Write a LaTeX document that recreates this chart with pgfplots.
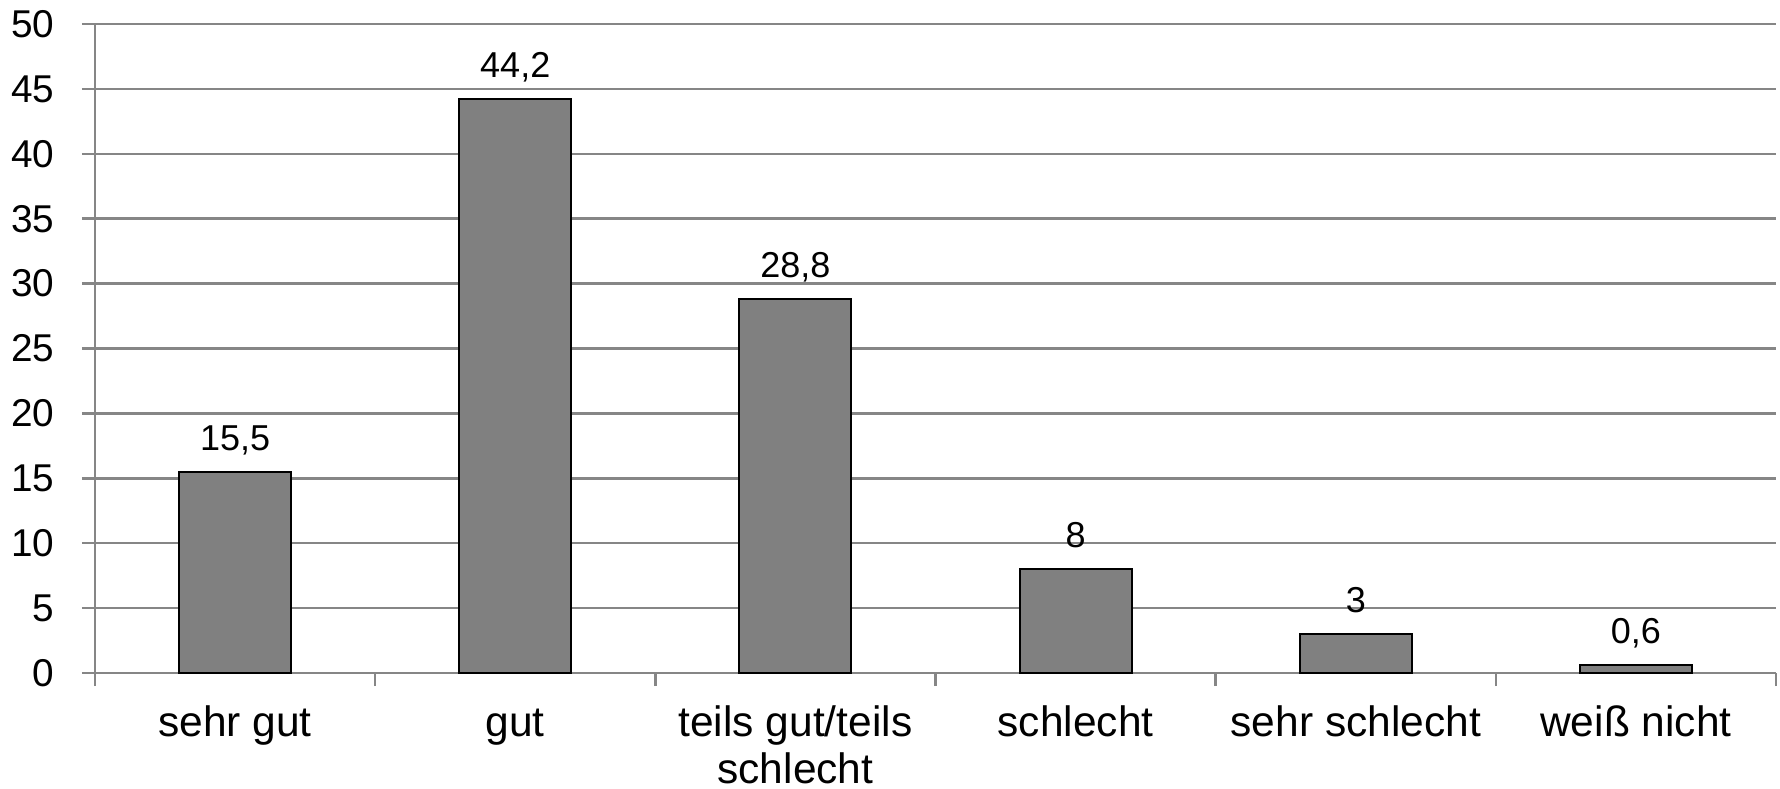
\documentclass[border=0pt]{standalone}
\usepackage{pgfplots}
\pgfplotsset{compat=1.18}
\usepackage{fontspec}
\setmainfont{Liberation Sans}
\definecolor{gridgray}{RGB}{134,134,134}
\definecolor{barfill}{RGB}{128,128,128}
\begin{document}
\begin{tikzpicture}
\useasboundingbox (0,0) rectangle (712pt,315.6pt);
\begin{axis}[
  at={(38pt,46.4pt)}, anchor=south west,
  scale only axis, width=672.4pt, height=259.6pt,
  xmin=-0.5, xmax=5.5, ymin=0, ymax=50,
  axis lines*=left,
  axis line style={gridgray, line width=1pt},
  every tick/.style={gridgray, line width=1pt},
  tick align=outside,
  major tick length=5.2pt,
  ytick={0,5,...,50},
  ymajorgrids,
  grid style={gridgray, line width=1pt},
  xtick={-0.5,0.5,1.5,2.5,3.5,4.5,5.5},
  x tick label as interval,
  xticklabels={sehr gut,gut,{teils gut/teils\\schlecht},schlecht,sehr schlecht,weiß nicht},
  xticklabel style={font=\fontsize{17}{18.6}\selectfont, align=center, text=black,
    anchor=north, inner sep=0pt, yshift=-7.8pt, execute at begin node={\vphantom{h}}},
  yticklabel style={font=\fontsize{15.5}{18}\selectfont, text=black,
    anchor=east, inner sep=0pt, xshift=-10.8pt},
  /pgf/number format/assume math mode=true,
  /pgf/number format/use comma,
  ybar, bar width=44.8pt,
  nodes near coords,
  nodes near coords style={font=\fontsize{14.4}{16}\selectfont, anchor=base, inner sep=0pt, yshift=8.6pt, text=black},
  clip=false,
]
\addplot[fill=barfill, draw=black, line width=0.8pt] coordinates {
  (0,15.5) (1,44.2) (2,28.8) (3,8) (4,3) (5,0.6)
};
\end{axis}
\end{tikzpicture}
\end{document}
